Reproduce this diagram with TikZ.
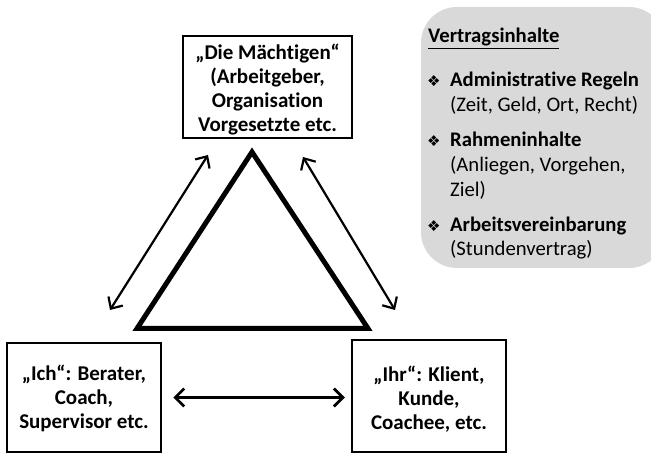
\documentclass[tikz,border=0pt]{standalone}
\usepackage{fontspec}
\setmainfont{Carlito}[Ligatures={NoCommon}]
\newfontfamily\symfont{DejaVu Sans}
\usetikzlibrary{arrows.meta}
\begin{document}
\begin{tikzpicture}[x=1pt,y=-1pt,
  frame/.style={draw,line width=2.5pt,inner sep=0pt,fill=white},
  boxtxt/.style={font=\fontsize{21}{24}\selectfont\bfseries,align=center,inner sep=0pt},
  panel/.style={fill=black!15,rounded corners=36pt},
  dbl/.style={line width=2.2pt,{Straight Barb[length=9pt,width=17pt]}-{Straight Barb[length=9pt,width=17pt]}},
  hdbl/.style={line width=2.8pt,{Straight Barb[length=9pt,width=18pt]}-{Straight Barb[length=9pt,width=18pt]}},
  item/.style={anchor=base west,inner sep=0pt,font=\fontsize{20.7}{24}\selectfont},
  bitem/.style={item,font=\fontsize{20.7}{24}\selectfont\bfseries},
  bul/.style={anchor=base west,inner sep=0pt,font=\symfont\fontsize{15}{15}\selectfont}]
\useasboundingbox (0,0) rectangle (651,454);
\fill[white] (0,0) rectangle (651,454);
% grey panel
\begin{scope}
  \clip (0,0) rectangle (651,454);
  \path[panel] (421,7) rectangle (665,268);
\end{scope}
\node[bitem] (title) at (428,43) {\underline{Vertragsinhalte}};
\node[bul] (b1) at (427,87) {❖};
\node[bitem] (i1) at (450,87) {Administrative Regeln};
\node[item] (i1b) at (450,112) {(Zeit, Geld, Ort, Recht)};
\node[bul] (b2) at (427,147) {❖};
\node[bitem] (i2) at (450,147) {Rahmeninhalte};
\node[item] (i2b) at (450,172) {(Anliegen, Vorgehen,};
\node[item] (i2c) at (450,197) {Ziel)};
\node[bul] (b3) at (427,232) {❖};
\node[bitem] (i3) at (450,232) {Arbeitsvereinbarung};
\node[item] (i3b) at (450,256) {(Stundenvertrag)};
% boxes
\node[frame,minimum width=169pt,minimum height=102pt] (top) at (267.5,87) {};
\node[boxtxt] (toptxt) at (267.5,90) {„Die Mächtigen“\\(Arbeitgeber,\\Organisation\\Vorgesetzte etc.};
\node[frame,minimum width=154pt,minimum height=109pt] (L) at (84,397.5) {};
\node[boxtxt] (Ltxt) at (84,398) {„Ich“: Berater,\\Coach,\\Supervisor etc.};
\node[frame,minimum width=154pt,minimum height=112pt] (R) at (429,396) {};
\node[boxtxt] (Rtxt) at (429,399) {„Ihr“: Klient,\\Kunde,\\Coachee, etc.};
% triangle
\coordinate (T1) at (252,152);
\coordinate (T2) at (137,328.5);
\coordinate (T3) at (368,328.5);
\draw[line width=5pt,line join=miter] (T1) -- (T2) -- (T3) -- cycle;
% arrows
\coordinate (a1) at (208,155);
\coordinate (a2) at (110,310);
\coordinate (c1) at (303,157);
\coordinate (c2) at (395,310);
\draw[dbl] (a1) -- (a2);
\draw[dbl] (c1) -- (c2);
\draw[hdbl,shorten <=11pt,shorten >=6pt] (L.east) -- (L.east -| R.west);
\end{tikzpicture}
\end{document}
